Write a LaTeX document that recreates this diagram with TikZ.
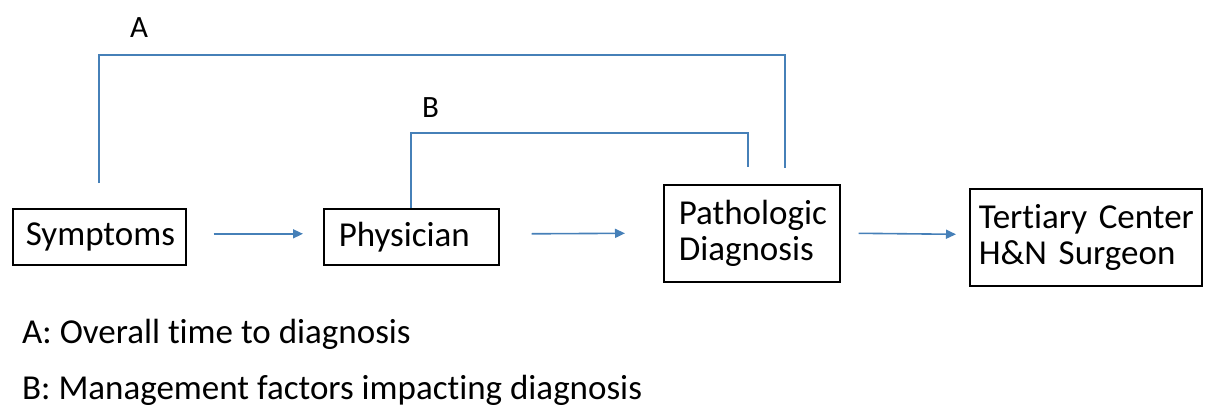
\documentclass[tikz,border=0pt]{standalone}
\usepackage{fontspec}
\setmainfont{Carlito}[Ligatures=NoCommon]
\usetikzlibrary{positioning,calc,arrows.meta}

\definecolor{linkblue}{RGB}{70,128,184}

\tikzset{
  box/.style={rectangle,draw=black,line width=1.6pt,anchor=north west,align=left,inner sep=0pt,
    font=\fontsize{35}{36}\selectfont},
  link/.style={draw=linkblue,line width=1.6pt,-{Triangle[length=10pt,width=9pt]}},
  bracket/.style={draw=linkblue,line width=1.6pt},
  tag/.style={anchor=base west,inner sep=0pt,font=\fontsize{31}{32}\selectfont},
  legend/.style={anchor=base west,inner sep=0pt,font=\fontsize{35}{36}\selectfont},
}

\begin{document}
\begin{tikzpicture}[x=1pt,y=-1pt]
        \useasboundingbox (0,0) rectangle (1208,407);

        \node[box,minimum width=173pt,minimum height=56pt,text width=173pt] (symptoms) at (12,208) {\hspace*{13pt}Symptoms};
        \node[box,minimum width=175pt,minimum height=56pt,text width=175pt] (physician) at (323,208) {\hspace*{15pt}Physician};
        \node[box,minimum width=176pt,minimum height=97pt,text width=176pt] (pathology) at (663,184) {\hspace*{15pt}Pathologic\\\hspace*{15pt}Diagnosis};
        \node[box,minimum width=232pt,minimum height=97pt,text width=232pt] (tertiary) at (969,188) {\hspace*{9pt}Tertiary Center\\\hspace*{9pt}H\&N Surgeon};

        \draw[link] ($(symptoms.east)+(27,-3)$) -- ($(physician.west)+(-20,-3)$);
        \draw[link] ($(physician.east)+(32,-3)$) -- ($(pathology.west)+(-38,0)$);
        \draw[link] ($(pathology.east)+(18,0)$) -- ($(tertiary.west)+(-13,-3)$);

        % A: symptoms -> pathologic diagnosis
        \coordinate (a-start) at (99,183);
        \coordinate (a-end) at (785,168);
        \draw[bracket] (a-start) -- (99,55) -- (785,55) -- (a-end);
        \node[tag] (a-label) at (130,37) {A};

        % B: physician -> pathologic diagnosis
        \coordinate (b-start) at (physician.north -| 411,0);
        \coordinate (b-end) at (748,167);
        \draw[bracket] (b-start) -- (411,133) -- (748,133) -- (b-end);
        \node[tag] (b-label) at (422,117) {B};

        \node[legend] (legend-a) at (22,343) {A: Overall time to diagnosis};
        \node[legend] (legend-b) at (22,399) {B: Management factors impacting diagnosis};
    \end{tikzpicture}
\end{document}
